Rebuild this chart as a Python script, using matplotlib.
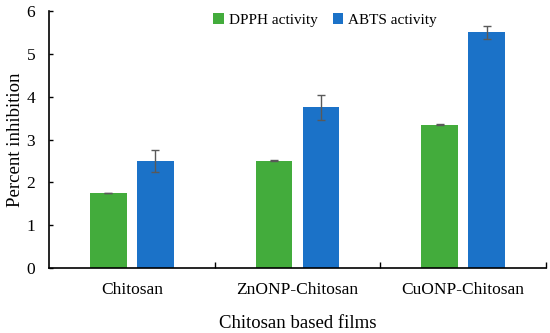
import matplotlib
matplotlib.use("Agg")
import matplotlib.pyplot as plt
import numpy as np

categories = ["Chitosan", "ZnONP-Chitosan", "CuONP-Chitosan"]
dpph = [1.75, 2.50, 3.35]
dpph_err = [0.01, 0.01, 0.01]
abts = [2.50, 3.75, 5.50]
abts_err = [0.25, 0.30, 0.15]
series_names = ["DPPH activity", "ABTS activity"]

plt.rcParams['font.family'] = ['Liberation Serif', 'DejaVu Serif']

fig = plt.figure(figsize=(5.5, 3.33), dpi=100)
ax = fig.add_axes([49/550, 1-268/333, (546-49)/550, (268-11)/333])

x = np.arange(len(categories))
w = 0.223
off = 0.142
green = "#43AC3C"
blue = "#1B72C8"
ek = dict(ecolor="#595959", elinewidth=1.0, capsize=3, capthick=1.0)
ax.bar(x - off, dpph, w, color=green, yerr=dpph_err, error_kw=ek, label=series_names[0])
ax.bar(x + off, abts, w, color=blue, yerr=abts_err, error_kw=ek, label=series_names[1])

ax.set_xlim(-0.5, 2.5)
ax.set_ylim(0, 6)
ax.set_yticks(range(7))
ax.tick_params(axis='y', direction='in', length=3, labelsize=12.5, pad=10, width=1)
ax.set_xticks(x)
ax.set_xticklabels(categories)
ax.tick_params(axis='x', length=0, labelsize=12.5, pad=10)
ax.set_xticks([0.5, 1.5, 2.5], minor=True)
ax.tick_params(axis='x', which='minor', direction='in', length=4, width=1)
for s in ["top", "right"]:
    ax.spines[s].set_visible(False)
for s in ["left", "bottom"]:
    ax.spines[s].set_linewidth(1.2)

ax.set_ylabel("Percent inhibition", fontsize=13.5)
ax.yaxis.set_label_coords((24 - 49) / 497, 0.5)
ax.set_xlabel("Chitosan based films", fontsize=13.5, labelpad=12)

fig.legend(ncol=2, loc="center", bbox_to_anchor=(0.591, 1-20/333), frameon=False,
           fontsize=11, handlelength=0.7, handleheight=0.7, handletextpad=0.3,
           columnspacing=1.0)

fig.savefig("out.png", dpi=100)
